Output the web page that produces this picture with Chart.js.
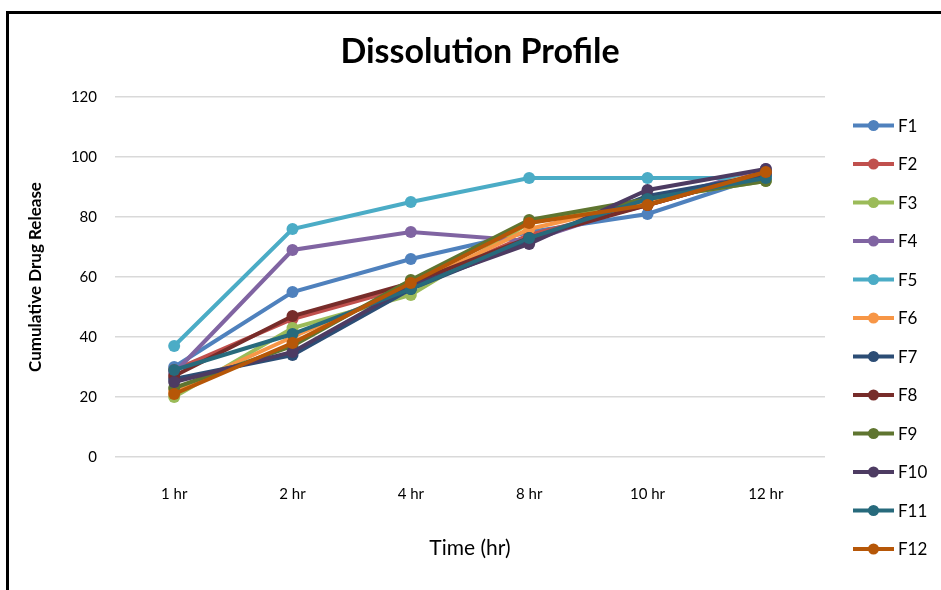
<!DOCTYPE html>
<html>
<head>
<meta charset="utf-8">
<title>Dissolution Profile</title>
<script src="https://cdn.jsdelivr.net/npm/chart.js@4.4.1/dist/chart.umd.min.js"></script>
<style>
  body { margin: 0; background: #fff; }
  #wrap { position: relative; width: 941px; height: 590px; overflow: hidden; }
  #frame { position: absolute; left: 6px; top: 11px; width: 1000px; height: 700px;
           border-left: 3px solid #000; border-top: 3px solid #000; pointer-events: none; }
</style>
</head>
<body>
<div id="wrap">
  <canvas id="chart" width="941" height="590"></canvas>
  <div id="frame"></div>
</div>
<script>
const timeLabels = ['1 hr', '2 hr', '4 hr', '8 hr', '10 hr', '12 hr'];
const yTicks = [0, 20, 40, 60, 80, 100, 120];

const seriesNames = ['F1', 'F2', 'F3', 'F4', 'F5', 'F6', 'F7', 'F8', 'F9', 'F10', 'F11', 'F12'];
const seriesColors = ['#4F81BD', '#C0504D', '#9BBB59', '#8064A2', '#4BACC6', '#F79646',
                      '#2C4D75', '#772C2A', '#5F7530', '#4D3B62', '#276A7C', '#B65708'];

const f1 = [30, 55, 66, 75, 81, 94];
const f2 = [29, 46, 57, 74, 84, 95];
const f3 = [20, 43, 54, 78, 86, 92];
const f4 = [28, 69, 75, 72, 85, 96];
const f5 = [37, 76, 85, 93, 93, 93];
const f6 = [22, 40, 57, 76, 85, 95];
const f7 = [26, 34, 56, 72, 87, 94];
const f8 = [27, 47, 58, 73, 84, 95];
const f9 = [23, 37, 59, 79, 86, 92];
const f10 = [25, 35, 57, 71, 89, 96];
const f11 = [29, 41, 56, 73, 86, 93];
const f12 = [21, 38, 58, 78, 84, 95];
const seriesValues = [f1, f2, f3, f4, f5, f6, f7, f8, f9, f10, f11, f12];

// legend drawn at the right like the Excel one
const sideLegend = {
    id: 'sideLegend',
    afterDraw(chart) {
        const ctx = chart.ctx;
        ctx.save();
        seriesNames.forEach((name, i) => {
            const y = 125.5 + i * 38.5;
            ctx.strokeStyle = seriesColors[i];
            ctx.lineWidth = 4;
            ctx.beginPath();
            ctx.moveTo(853, y);
            ctx.lineTo(894, y);
            ctx.stroke();
            ctx.fillStyle = seriesColors[i];
            ctx.beginPath();
            ctx.arc(873.5, y, 5.5, 0, Math.PI * 2);
            ctx.fill();
            ctx.fillStyle = '#000';
            ctx.font = '17px Lato';
            ctx.textBaseline = 'middle';
            ctx.fillText(name, 898, y + 1);
        });
        ctx.restore();
    }
};

const datasets = seriesNames.map((name, i) => ({
    label: name,
    data: seriesValues[i],
    borderColor: seriesColors[i],
    backgroundColor: seriesColors[i],
    borderWidth: 4,
    pointRadius: 6,
    pointHoverRadius: 6,
    pointBorderWidth: 0,
    tension: 0,
    order: seriesNames.length - i
}));

let ctx = document.getElementById('chart').getContext('2d');
let dissolutionChart = new Chart(ctx, {
    type: 'line',
    data: {
        labels: timeLabels,
        datasets: datasets
    },
    options: {
        responsive: false,
        animation: false,
        devicePixelRatio: 1,
        layout: { padding: { left: 19, right: 0, top: 0, bottom: 0 } },
        plugins: {
            legend: { display: false },
            tooltip: { enabled: false },
            title: {
                display: true,
                text: 'Dissolution Profile',
                color: '#000',
                font: { family: 'Lato', size: 34, weight: 'bold' },
                padding: { top: 31.6, bottom: 24.6 }
            }
        },
        scales: {
            x: {
                offset: true,
                grid: { display: false, drawTicks: false },
                border: { display: false },
                ticks: { color: '#000', font: { family: 'Lato', size: 15 }, padding: 28, maxRotation: 0 },
                title: {
                    display: true,
                    text: 'Time (hr)',
                    color: '#000',
                    font: { family: 'Lato', size: 21 },
                    padding: { top: 4, bottom: 29.4 }
                },
                afterFit(scale) { scale.height = 133; }
            },
            y: {
                min: 0,
                max: 120,
                afterBuildTicks(scale) { scale.ticks = yTicks.map(v => ({ value: v })); },
                grid: { color: '#d9d9d9', lineWidth: 1.5, drawTicks: false },
                border: { display: false },
                ticks: { color: '#000', font: { family: 'Lato', size: 15 }, padding: 18 },
                title: {
                    display: true,
                    text: 'Cumulative Drug Release',
                    color: '#000',
                    font: { family: 'Lato', size: 17, weight: 'bold' },
                    padding: { top: 6, bottom: 4 }
                },
                afterFit(scale) { scale.width = 96; }
            },
            // empty axis on the right keeps room for the legend
            legendSpace: {
                type: 'linear',
                position: 'right',
                grid: { display: false, drawTicks: false },
                border: { display: false },
                ticks: { display: false },
                afterFit(scale) { scale.width = 116; }
            }
        }
    },
    plugins: [sideLegend]
});
</script>
</body>
</html>
